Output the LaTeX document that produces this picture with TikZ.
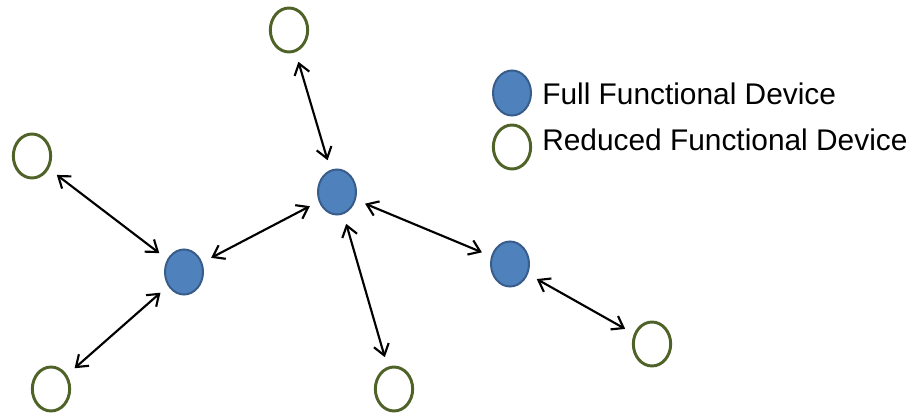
\documentclass[tikz,border=0pt]{standalone}
\usepackage{fontspec}
\setmainfont{Liberation Sans}
\usetikzlibrary{shapes.geometric,arrows.meta}
\definecolor{ffdfill}{HTML}{4F81BD}
\definecolor{ffdline}{HTML}{385D8A}
\definecolor{rfdline}{HTML}{4F6228}
\begin{document}
\begin{tikzpicture}[x=0.75pt,y=-0.75pt,
  ffd/.style={ellipse,draw=ffdline,fill=ffdfill,line width=1.5pt,minimum width=28.5pt,minimum height=33.75pt,inner sep=0pt},
  rfd/.style={ellipse,draw=rfdline,fill=white,line width=2.2pt,minimum width=28pt,minimum height=33pt,inner sep=0pt},
  link/.style={{Straight Barb[length=8pt,width=11.5pt]}-{Straight Barb[length=8pt,width=11.5pt]},line width=1.6pt,black,shorten <=7.5pt,shorten >=7.5pt},
  legtext/.style={anchor=base west,inner sep=0pt,font=\fontsize{22.4pt}{26pt}\selectfont}]
\useasboundingbox (0,0) rectangle (916,416);
% full functional devices
\node[ffd] (b1) at (184,272) {};
\node[ffd] (b2) at (337,192) {};
\node[ffd] (b3) at (510,264) {};
% reduced functional devices
\node[rfd] (gt) at (289,30) {};
\node[rfd] (gl) at (32,156) {};
\node[rfd] (gbl) at (51,389) {};
\node[rfd] (gbm) at (394,389) {};
\node[rfd] (gr) at (652,344) {};
% links
\draw[link] (gt) -- (b2);
\draw[link] (gl) -- (b1);
\draw[link] (b1) -- (b2);
\draw[link] (b2) -- (b3);
\draw[link] (b2) -- (gbm);
\draw[link] (b1) -- (gbl);
\draw[link] (b3) -- (gr);
% legend
\node[ffd] (lf) at (512,93) {};
\node[rfd] (lr) at (512,147) {};
\node[legtext] (tf) at (542,105) {Full Functional Device};
\node[legtext] (tr) at (542,151) {Reduced Functional Device};
\end{tikzpicture}
\end{document}
